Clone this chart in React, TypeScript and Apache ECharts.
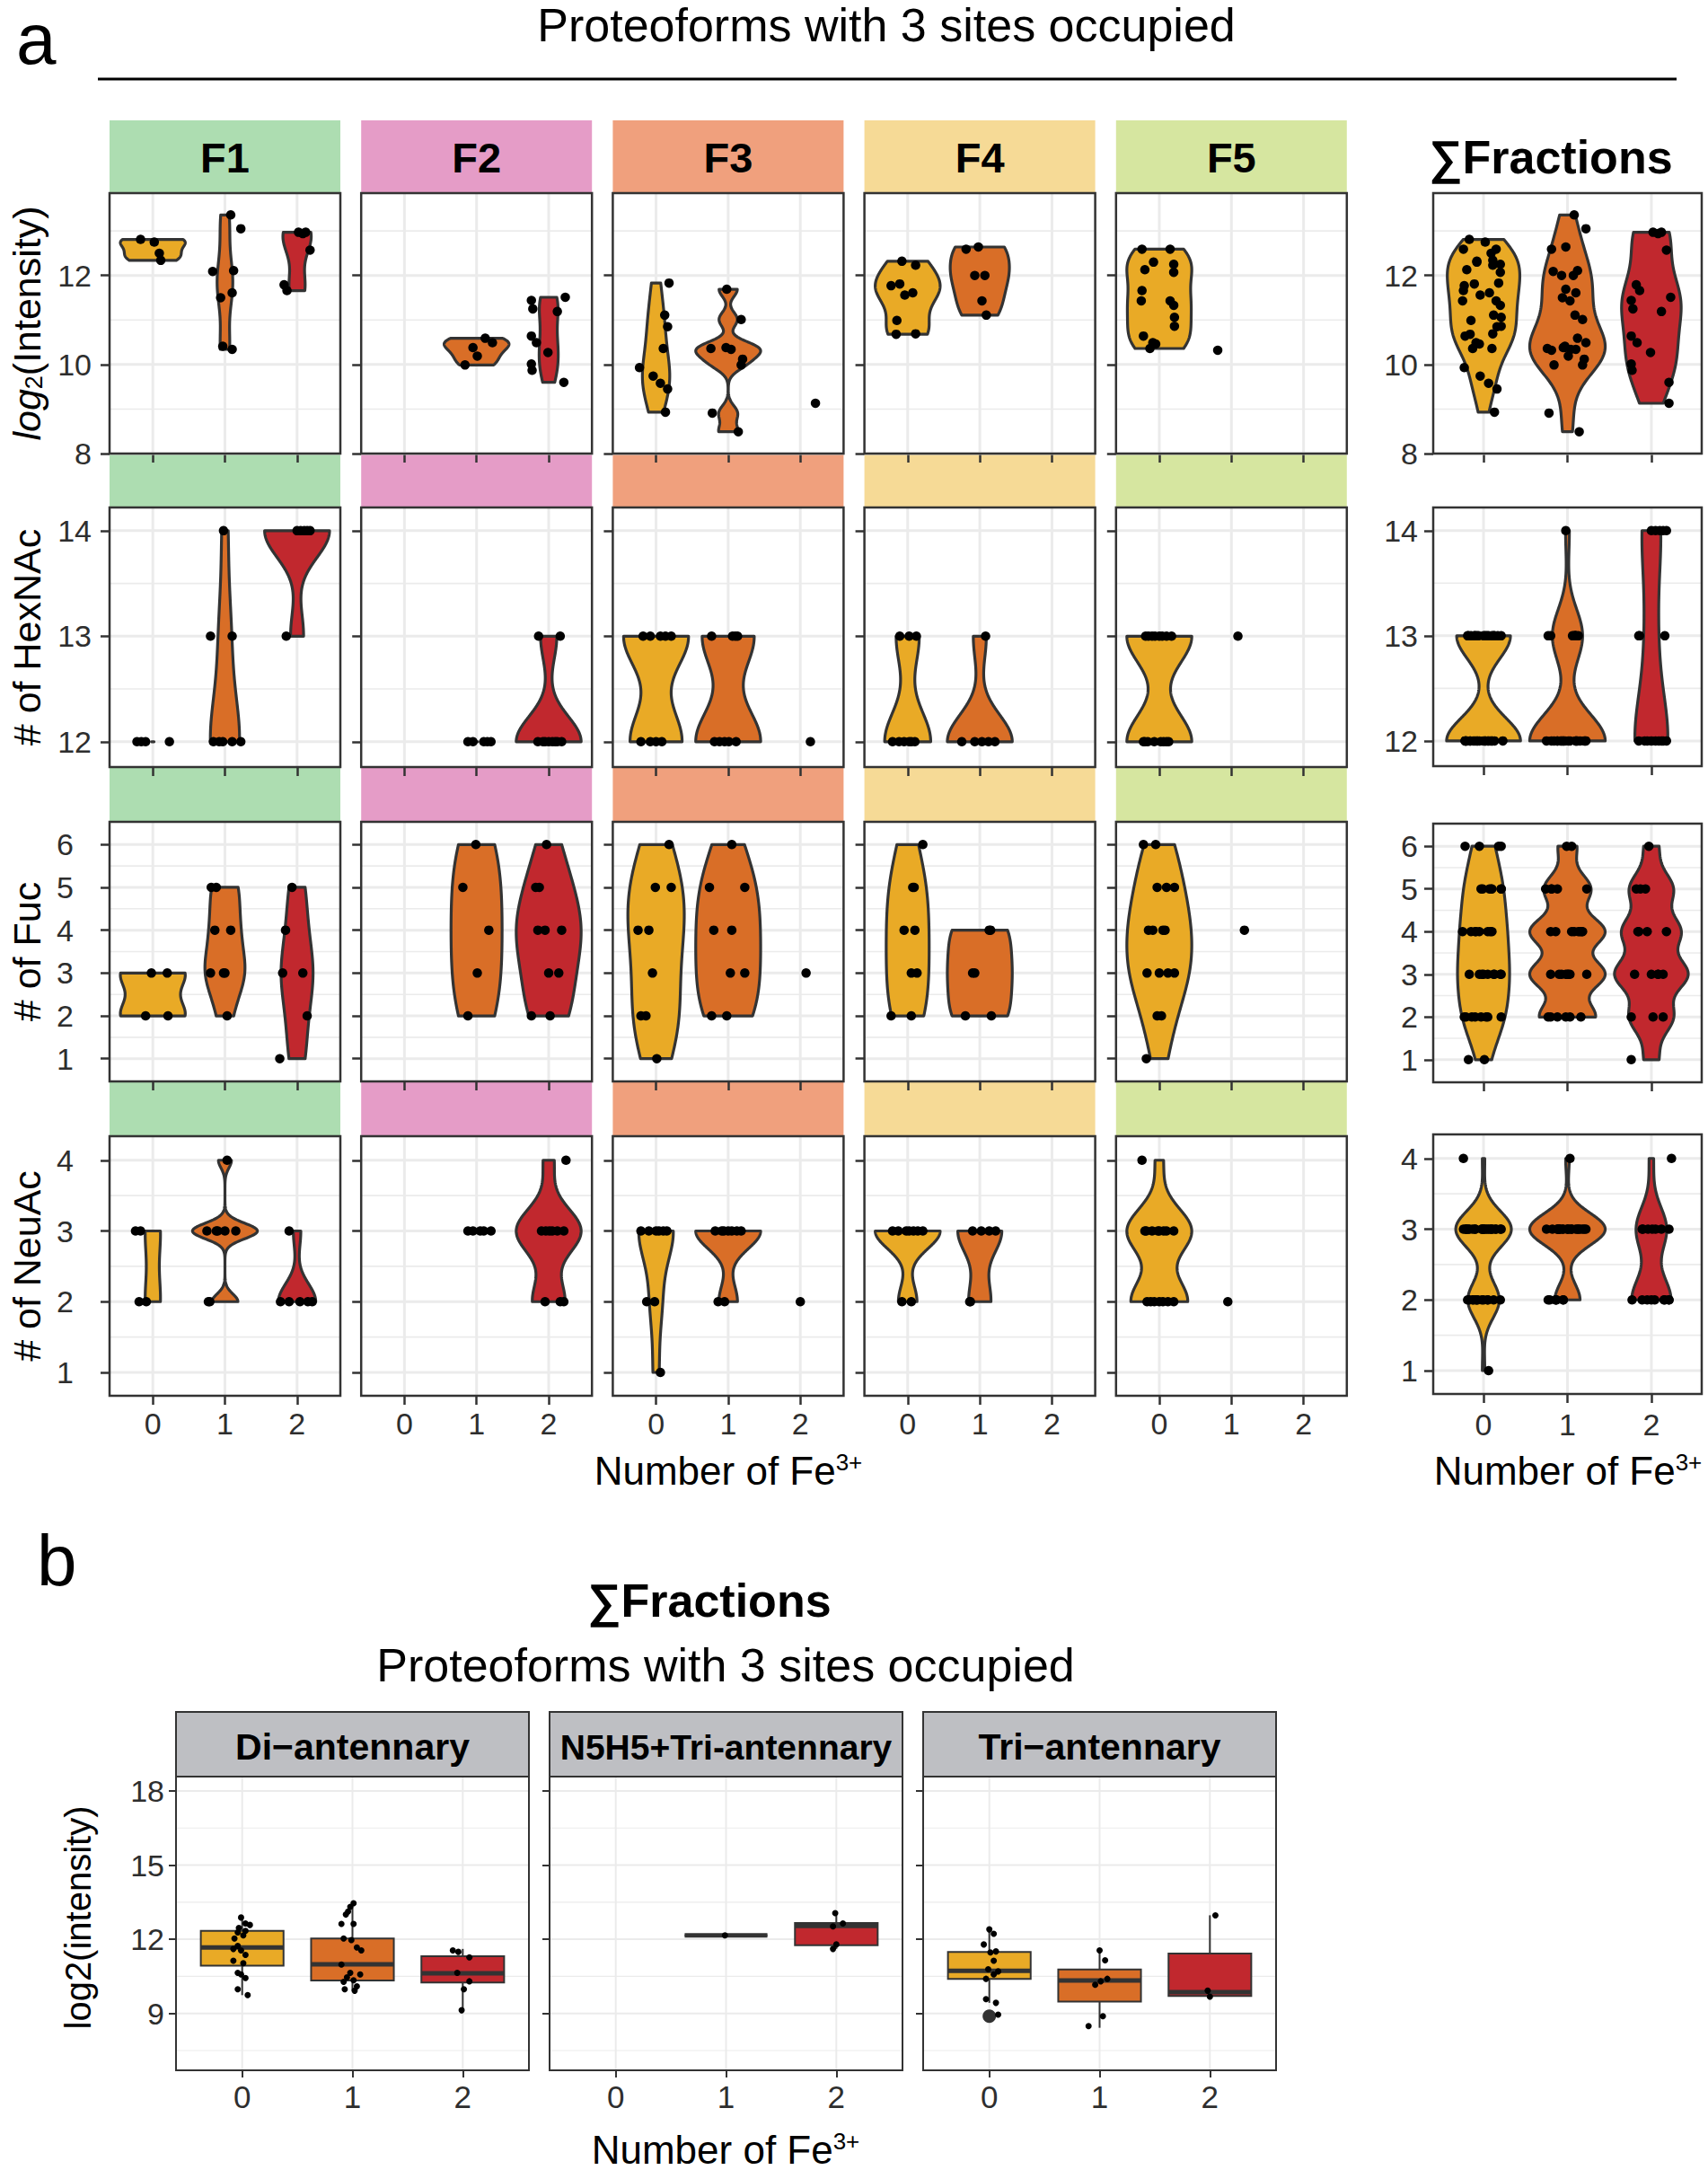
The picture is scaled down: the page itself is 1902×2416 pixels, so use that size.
import React, { useEffect, useRef } from 'react';
import * as echarts from 'echarts';

const W = 1902;
const H = 2416;
const FONT = '"Liberation Sans", Arial, Helvetica, sans-serif';

// ---------------- data ----------------
const FE_LEVELS = [0, 1, 2];
const FRACTIONS = ['F1', 'F2', 'F3', 'F4', 'F5'];
const FRACTION_STRIP_COLORS = ['#ADDDB1', '#E59CC7', '#F0A07D', '#F6DA96', '#D6E6A0'];
const FE_FILL = ['#E9AA26', '#D96E27', '#C1282E'];

// every point: [horizontal jitter (in category units), value]; groups = Fe3+ 0, 1, 2
// Row 1: log2(Intensity)
const INTENSITY_F1 = [
  [[-0.17, 12.81], [0.02, 12.75], [0.09, 12.5], [0.11, 12.34]],
  [[0.08, 13.36], [0.22, 13.05], [-0.17, 12.09], [0.12, 12.11], [-0.06, 11.5], [0.1, 11.61], [-0.03, 10.41], [0.1, 10.34]],
  [[0.02, 12.97], [0.12, 12.97], [0.08, 12.94], [0.18, 12.57], [-0.18, 11.79], [-0.14, 11.66]],
];
const INTENSITY_F2 = [
  [],
  [[0.12, 10.59], [0.22, 10.49], [-0.05, 10.38], [0.01, 10.19], [-0.16, 9.99]],
  [[0.23, 11.51], [-0.24, 11.44], [-0.22, 11.25], [0.12, 11.19], [-0.24, 10.64], [-0.17, 10.49], [-0.01, 10.27], [-0.24, 10.01], [-0.23, 9.87], [0.21, 9.6]],
];
const INTENSITY_F3 = [
  [[0.18, 11.83], [0.12, 11.11], [0.16, 10.85], [0.1, 10.36], [-0.23, 9.93], [-0.04, 9.74], [0.06, 9.58], [0.16, 9.45], [0.13, 8.93]],
  [[-0.02, 11.69], [0.18, 11.01], [-0.24, 10.36], [-0.03, 10.38], [0.04, 10.34], [0.2, 10.12], [0.18, 9.99], [-0.22, 8.91], [0.14, 8.49]],
  [[0.21, 9.13]],
];
const INTENSITY_F4 = [
  [[-0.08, 12.32], [0.11, 12.23], [-0.23, 11.77], [-0.11, 11.81], [-0.04, 11.56], [0.07, 11.61], [-0.15, 10.99], [-0.16, 10.68], [0.11, 10.69]],
  [[-0.19, 12.59], [-0.02, 12.64], [-0.07, 12.0], [0.07, 12.0], [0.03, 11.43], [0.09, 11.11]],
  [],
];
const INTENSITY_F5 = [
  [[-0.24, 12.59], [0.15, 12.59], [-0.08, 12.3], [-0.2, 12.13], [0.2, 12.25], [0.2, 12.07], [-0.24, 11.66], [-0.25, 11.43], [0.15, 11.43], [0.2, 11.33], [0.21, 11.06], [0.21, 10.86], [-0.22, 10.64], [-0.09, 10.49], [-0.13, 10.36], [-0.05, 10.46]],
  [[-0.19, 10.32]],
  [],
];

// Row 2: # of HexNAc
const HEXNAC_F1 = [
  [[-0.22, 12], [-0.16, 12], [-0.1, 12], [0.23, 12]],
  [[-0.16, 12], [-0.08, 12], [-0.03, 12], [0.1, 12], [0.22, 12], [-0.2, 13], [0.1, 13], [-0.02, 14]],
  [[-0.15, 13], [0.0, 14], [0.1, 14], [0.18, 14], [0.14, 14], [0.05, 14]],
];
const HEXNAC_F2 = [
  [],
  [[-0.12, 12], [0.1, 12], [0.2, 12], [0.15, 12], [-0.05, 12]],
  [[-0.14, 13], [0.16, 13], [-0.15, 12], [-0.08, 12], [0.0, 12], [0.05, 12], [0.18, 12], [-0.05, 12], [0.09, 12], [0.12, 12]],
];
const HEXNAC_F3 = [
  [[-0.18, 13], [-0.08, 13], [0.06, 13], [0.13, 13], [0.21, 13], [-0.21, 12], [-0.08, 12], [0.0, 12], [0.08, 12]],
  [[-0.23, 13], [0.06, 13], [0.13, 13], [0.1, 13], [-0.19, 12], [-0.12, 12], [0.01, 12], [0.11, 12], [-0.05, 12]],
  [[0.14, 12]],
];
const HEXNAC_F4 = [
  [[-0.11, 13], [0.02, 13], [0.12, 13], [-0.21, 12], [-0.05, 12], [0.02, 12], [0.05, 12], [0.1, 12], [-0.12, 12]],
  [[0.08, 13], [-0.25, 12], [-0.07, 12], [0.03, 12], [0.21, 12], [0.12, 12]],
  [],
];
const HEXNAC_F5 = [
  [[-0.19, 13], [-0.15, 13], [-0.06, 13], [0.04, 13], [0.17, 13], [-0.1, 13], [0.1, 13], [0.0, 13], [-0.22, 12], [-0.16, 12], [-0.07, 12], [0.06, 12], [0.13, 12], [-0.2, 12], [0.1, 12], [0.02, 12]],
  [[0.09, 13]],
  [],
];

// Row 3: # of Fuc
const FUC_F1 = [
  [[-0.02, 3], [0.2, 3], [-0.1, 2], [0.21, 2]],
  [[-0.19, 5], [-0.12, 5], [-0.14, 4], [0.08, 4], [-0.2, 3], [-0.02, 3], [0.0, 3], [0.03, 2]],
  [[-0.07, 5], [-0.16, 4], [-0.2, 3], [0.08, 3], [0.14, 2], [-0.24, 1]],
];
const FUC_F2 = [
  [],
  [[-0.01, 6], [-0.19, 5], [0.17, 4], [0.01, 3], [-0.12, 2]],
  [[-0.03, 6], [-0.18, 5], [-0.13, 5], [-0.15, 4], [-0.05, 4], [0.18, 4], [0.0, 3], [0.14, 3], [-0.24, 2], [0.02, 2]],
];
const FUC_F3 = [
  [[0.18, 6], [-0.01, 5], [0.21, 5], [-0.25, 4], [-0.1, 4], [-0.05, 3], [-0.21, 2], [-0.14, 2], [0.01, 1]],
  [[0.05, 6], [-0.26, 5], [0.23, 5], [-0.2, 4], [0.05, 4], [0.03, 3], [0.23, 3], [-0.23, 2], [-0.02, 2]],
  [[0.08, 3]],
];
const FUC_F4 = [
  [[0.21, 6], [0.07, 5], [0.09, 5], [-0.05, 4], [0.1, 4], [0.05, 3], [0.13, 3], [-0.23, 2], [0.05, 2]],
  [[0.15, 4], [0.13, 4], [-0.1, 3], [-0.07, 3], [-0.2, 2], [0.16, 2]],
  [],
];
const FUC_F5 = [
  [[-0.22, 6], [-0.05, 6], [-0.03, 5], [0.1, 5], [0.21, 5], [-0.09, 4], [0.05, 4], [0.08, 4], [-0.15, 4], [-0.17, 3], [0.0, 3], [0.21, 3], [0.12, 3], [-0.03, 2], [0.03, 2], [-0.18, 1]],
  [[0.18, 4]],
  [],
];

// Row 4: # of NeuAc
const NEUAC_F1 = [
  [[-0.24, 3], [-0.17, 3], [-0.19, 2], [-0.09, 2]],
  [[0.03, 4], [-0.25, 3], [-0.12, 3], [0.0, 3], [0.15, 3], [-0.1, 3], [-0.23, 2], [-0.21, 2]],
  [[-0.11, 3], [-0.23, 2], [-0.11, 2], [0.04, 2], [0.15, 2], [0.21, 2]],
];
const NEUAC_F2 = [
  [],
  [[-0.12, 3], [0.05, 3], [0.2, 3], [0.1, 3], [-0.05, 3]],
  [[0.24, 4], [-0.04, 3], [0.05, 3], [0.12, 3], [0.21, 3], [0.01, 3], [-0.1, 3], [-0.05, 2], [0.16, 2], [0.21, 2]],
];
const NEUAC_F3 = [
  [[-0.21, 3], [0.04, 3], [0.15, 3], [-0.1, 3], [0.1, 3], [0.0, 3], [-0.13, 2], [-0.02, 2], [0.06, 1]],
  [[-0.18, 3], [-0.09, 3], [0.05, 3], [0.18, 3], [0.0, 3], [0.12, 3], [-0.06, 3], [-0.14, 2], [-0.05, 2]],
  [[0.0, 2]],
];
const NEUAC_F4 = [
  [[-0.21, 3], [-0.13, 3], [-0.02, 3], [0.02, 3], [0.14, 3], [0.21, 3], [0.08, 3], [-0.08, 2], [0.05, 2]],
  [[-0.1, 3], [0.02, 3], [0.13, 3], [0.22, 3], [-0.14, 2], [-0.13, 2]],
  [],
];
const NEUAC_F5 = [
  [[-0.24, 4], [-0.2, 3], [-0.18, 3], [-0.02, 3], [0.06, 3], [0.2, 3], [0.1, 3], [-0.1, 3], [0.0, 3], [-0.17, 2], [-0.07, 2], [0.05, 2], [0.12, 2], [0.2, 2], [-0.12, 2], [0.0, 2]],
  [[-0.05, 2]],
  [],
];

const ROW_DATA = [
  [INTENSITY_F1, INTENSITY_F2, INTENSITY_F3, INTENSITY_F4, INTENSITY_F5],
  [HEXNAC_F1, HEXNAC_F2, HEXNAC_F3, HEXNAC_F4, HEXNAC_F5],
  [FUC_F1, FUC_F2, FUC_F3, FUC_F4, FUC_F5],
  [NEUAC_F1, NEUAC_F2, NEUAC_F3, NEUAC_F4, NEUAC_F5],
];
const ROW_TITLES = ['{i|log}{s|2}{n|(Intensity)}', '{n|# of HexNAc}', '{n|# of Fuc}', '{n|# of NeuAc}'];
const ROW_Y_TICKS = [[8, 10, 12], [12, 13, 14], [1, 2, 3, 4, 5, 6], [1, 2, 3, 4]];
const ROW_Y_MINOR = [[9, 11, 13], [12.5, 13.5], [1.5, 2.5, 3.5, 4.5, 5.5], [1.5, 2.5, 3.5]];
const ROW_Y_RANGE = [[8, 13.85], [11.76, 14.22], [0.47, 6.53], [0.67, 4.34]];

// Panel b: boxplots, log2(intensity)
const B_FACETS = ['Di\u2212antennary', 'N5H5+Tri-antennary', 'Tri\u2212antennary'];
const DI_POINTS = [
  [[-0.01, 12.88], [0.03, 12.64], [-0.03, 12.46], [0.07, 12.58], [-0.04, 12.28], [0.01, 12.16], [-0.07, 12.03], [0.03, 12.34], [-0.04, 11.73], [-0.08, 11.61], [-0.01, 11.55], [0.03, 11.37], [-0.08, 11.13], [0.01, 11.03], [-0.04, 10.64], [-0.01, 10.58], [0.03, 10.43], [-0.04, 9.98], [0.05, 9.74]],
  [[0.01, 13.46], [-0.02, 13.31], [-0.04, 13.12], [-0.06, 13.0], [-0.1, 12.62], [0.01, 12.62], [-0.08, 12.03], [-0.01, 11.97], [0.04, 11.67], [0.08, 11.55], [-0.1, 10.98], [-0.02, 10.64], [0.07, 10.58], [-0.05, 10.46], [0.01, 10.34], [-0.08, 10.28], [0.04, 10.1], [-0.07, 9.98], [0.02, 9.92]],
  [[-0.09, 11.55], [-0.04, 11.49], [0.06, 11.27], [-0.05, 10.64], [0.06, 10.3], [0.01, 9.98], [-0.01, 9.13]],
];
const N5H5_POINTS = [
  [],
  [[-0.01, 12.16]],
  [[-0.01, 13.06], [0.06, 12.64], [-0.03, 12.52], [0.0, 11.79], [-0.03, 11.61]],
];
const TRI_POINTS = [
  [[0.0, 12.4], [0.04, 12.22], [-0.05, 11.79], [0.06, 11.51], [0.01, 11.47], [0.04, 11.13], [-0.01, 10.79], [0.08, 10.7], [0.04, 10.58], [-0.03, 10.4], [-0.03, 9.58], [0.06, 9.43], [0.08, 8.95]],
  [[0.0, 11.55], [0.05, 11.15], [0.07, 10.4], [0.01, 10.3], [-0.04, 10.16], [0.03, 8.89], [-0.1, 8.49]],
  [[0.05, 12.97], [-0.02, 9.92], [0.0, 9.68]],
];
// [lower whisker, Q1, median, Q3, upper whisker]
const DI_BOX = [[9.74, 10.93, 11.67, 12.34, 12.88], [9.92, 10.33, 10.99, 12.03, 13.46], [9.07, 10.25, 10.62, 11.31, 11.61]];
const N5H5_BOX = [null, [12.16, 12.16, 12.16, 12.16, 12.16], [11.61, 11.76, 12.54, 12.66, 13.06]];
const TRI_BOX = [[9.43, 10.4, 10.72, 11.49, 12.4], [8.42, 9.48, 10.33, 10.78, 11.53], [9.71, 9.71, 9.86, 11.42, 12.97]];
const TRI_OUTLIERS = [[0, 8.89]];
const B_POINTS = [DI_POINTS, N5H5_POINTS, TRI_POINTS];
const B_BOXES = [DI_BOX, N5H5_BOX, TRI_BOX];
const B_OUTLIERS = [[], [], TRI_OUTLIERS];
const B_Y_TICKS = [9, 12, 15, 18];
const B_Y_MINOR = [7.5, 10.5, 13.5, 16.5];
const B_Y_RANGE = [6.7, 18.58];

// ---------------- layout ----------------
const A_LEFT = 122;
const A_W = 257;
const A_STEP = 280.2;
const A_TOP = [215, 565, 915, 1265];
const A_H = [290, 289, 289, 289];
const A_STRIP = [[134, 80], [505, 59], [855, 59], [1205, 59]];
const A_YMARGIN = [20, 20, 40, 40];
const SUM_LEFT = 1596;
const SUM_W = 299;
const SUM_TOP = [215, 565, 917, 1263];
const SUM_H = [290, 288, 288, 289];
const B_LEFT = [196, 612, 1028];
const B_W = 393;
const B_TOP = 1978;
const B_H = 327;
const B_STRIP_TOP = 1906;

// ---------------- violin density (ggplot2 stat_ydensity: gaussian, nrd0, trim) ----------------
function q7(s: number[], p: number) {
  const h = (s.length - 1) * p;
  const lo = Math.floor(h);
  const hi = Math.ceil(h);
  return s[lo] + (h - lo) * (s[hi] - s[lo]);
}
function bwNrd0(x: number[]) {
  const n = x.length;
  const mean = x.reduce((a, b) => a + b, 0) / n;
  const sd = Math.sqrt(x.reduce((a, b) => a + (b - mean) * (b - mean), 0) / (n - 1));
  const s = [...x].sort((a, b) => a - b);
  const iqr = q7(s, 0.75) - q7(s, 0.25);
  let lo = Math.min(sd, iqr / 1.34);
  if (!lo) lo = sd || Math.abs(x[0]) || 1;
  return 0.9 * lo * Math.pow(n, -0.2);
}
function kde(x: number[], steps = 140) {
  const bw = bwNrd0(x);
  const lo = Math.min(...x);
  const hi = Math.max(...x);
  const ys: number[] = [];
  const d: number[] = [];
  for (let i = 0; i <= steps; i++) {
    const y = lo + ((hi - lo) * i) / steps;
    let s = 0;
    for (const xi of x) {
      const z = (y - xi) / bw;
      s += Math.exp(-0.5 * z * z);
    }
    ys.push(y);
    d.push(s / (x.length * bw * Math.sqrt(2 * Math.PI)));
  }
  return { ys, d };
}

function buildOption() {
  const grid: any[] = [];
  const xAxis: any[] = [];
  const yAxis: any[] = [];
  const series: any[] = [];
  const graphic: any[] = [];

  const addPanel = (p: any) => {
    const idx = grid.length;
    grid.push({ left: p.left, top: p.top, width: p.width, height: p.height, show: false, containLabel: false, outerBoundsMode: 'none' });
    xAxis.push({
      gridIndex: idx, type: 'value', min: -0.6, max: 2.6,
      axisLine: { show: false, onZero: false }, splitLine: { show: false },
      axisTick: { show: true, customValues: FE_LEVELS, length: p.tickLen, lineStyle: { color: '#333333', width: p.tickW } },
      axisLabel: { show: p.showX, customValues: FE_LEVELS, margin: p.xMargin, fontSize: p.xLabelSize, color: '#2E2E2E', fontFamily: FONT },
    });
    yAxis.push({
      gridIndex: idx, type: 'value', min: p.range[0], max: p.range[1],
      axisLine: { show: false, onZero: false }, splitLine: { show: false },
      axisTick: { show: true, customValues: p.ticks, length: p.tickLen, lineStyle: { color: '#333333', width: p.tickW } },
      axisLabel: { show: p.showY, customValues: p.ticks, margin: p.yMargin, fontSize: p.yLabelSize, color: '#2E2E2E', fontFamily: FONT, showMinLabel: true, showMaxLabel: true },
    });
    // grid lines
    const lines: any[] = [
      ...p.minor.map((v: number) => ({ o: 'h', v, w: p.minorW })),
      ...p.ticks.map((v: number) => ({ o: 'h', v, w: p.majorW })),
      ...FE_LEVELS.map((v) => ({ o: 'v', v, w: p.majorW })),
    ];
    series.push({
      type: 'custom', xAxisIndex: idx, yAxisIndex: idx, z: 1, silent: true,
      data: lines.map((l) => (l.o === 'h' ? [0, l.v] : [l.v, p.range[0]])),
      renderItem: (params: any, api: any) => {
        const l = lines[params.dataIndex];
        const cs = params.coordSys;
        if (l.o === 'h') {
          const y = api.coord([0, l.v])[1];
          return { type: 'line', shape: { x1: cs.x, y1: y, x2: cs.x + cs.width, y2: y }, style: { stroke: '#EBEBEB', lineWidth: l.w } };
        }
        const x = api.coord([l.v, p.range[0]])[0];
        return { type: 'line', shape: { x1: x, y1: cs.y, x2: x, y2: cs.y + cs.height }, style: { stroke: '#EBEBEB', lineWidth: l.w } };
      },
    });

    if (p.kind === 'violin') {
      const dens = p.groups.map((g: number[][]) => (g.length >= 2 ? kde(g.map((q) => q[1])) : null));
      let maxD = 0;
      dens.forEach((o: any) => o && o.d.forEach((v: number) => { if (v > maxD) maxD = v; }));
      const violins: any[] = [];
      dens.forEach((o: any, g: number) => {
        if (o) violins.push({ g, ys: o.ys, hw: o.d.map((v: number) => (0.45 * v) / maxD) });
      });
      series.push({
        type: 'custom', xAxisIndex: idx, yAxisIndex: idx, z: 2, silent: true,
        data: violins.map((v) => [v.g, v.ys[0]]),
        renderItem: (params: any, api: any) => {
          const v = violins[params.dataIndex];
          const right = v.ys.map((y: number, i: number) => api.coord([v.g + v.hw[i], y]));
          const left = v.ys.map((y: number, i: number) => api.coord([v.g - v.hw[i], y])).reverse();
          return {
            type: 'polygon',
            shape: { points: right.concat(left) },
            style: { fill: FE_FILL[v.g], stroke: '#333333', lineWidth: 3.2, lineJoin: 'round' },
          };
        },
      });
    } else {
      const boxes: any[] = [];
      p.boxes.forEach((s: any, g: number) => { if (s) boxes.push({ g, s }); });
      series.push({
        type: 'custom', xAxisIndex: idx, yAxisIndex: idx, z: 2, silent: true,
        data: boxes.map((b) => [b.g, b.s[2]]),
        renderItem: (params: any, api: any) => {
          const { g, s } = boxes[params.dataIndex];
          const [mn, q1, md, q3, mx] = s;
          const hw = 0.375;
          const c = (x: number, y: number) => api.coord([x, y]);
          const tl = c(g - hw, q3);
          const br = c(g + hw, q1);
          const st = '#333333';
          return {
            type: 'group',
            children: [
              { type: 'line', shape: { x1: c(g, q3)[0], y1: c(g, q3)[1], x2: c(g, mx)[0], y2: c(g, mx)[1] }, style: { stroke: st, lineWidth: 2 } },
              { type: 'line', shape: { x1: c(g, q1)[0], y1: c(g, q1)[1], x2: c(g, mn)[0], y2: c(g, mn)[1] }, style: { stroke: st, lineWidth: 2 } },
              { type: 'rect', shape: { x: tl[0], y: tl[1], width: br[0] - tl[0], height: br[1] - tl[1] }, style: { fill: FE_FILL[g], stroke: st, lineWidth: 2 } },
              { type: 'line', shape: { x1: c(g - hw, md)[0], y1: c(g - hw, md)[1], x2: c(g + hw, md)[0], y2: c(g + hw, md)[1] }, style: { stroke: st, lineWidth: 5 } },
            ],
          };
        },
      });
      if (p.outliers && p.outliers.length) {
        series.push({
          type: 'scatter', xAxisIndex: idx, yAxisIndex: idx, z: 3, silent: true, symbol: 'circle', symbolSize: 15,
          itemStyle: { color: '#333333', opacity: 1 },
          data: p.outliers.map((o: number[]) => [o[0], o[1]]),
        });
      }
    }

    const pts: number[][] = [];
    p.groups.forEach((grp: number[][], g: number) => grp.forEach(([dx, y]) => pts.push([g + dx, y])));
    series.push({
      type: 'scatter', xAxisIndex: idx, yAxisIndex: idx, z: 4, silent: true, symbol: 'circle', symbolSize: p.pointSize,
      itemStyle: { color: '#000000', opacity: 1 },
      data: pts,
    });

    graphic.push({
      type: 'rect', silent: true, z: 100,
      shape: { x: p.left, y: p.top, width: p.width, height: p.height },
      style: { fill: 'none', stroke: '#333333', lineWidth: p.borderW },
    });
  };

  const txt = (x: number, y: number, text: string, o: any = {}) => ({
    type: 'text', x, y, z: 120, silent: true, rotation: o.rotation || 0,
    style: {
      text, fill: '#000000', fontFamily: FONT, fontSize: o.fontSize || 32, fontWeight: o.fontWeight || 'normal',
      align: o.align || 'center', verticalAlign: 'middle', rich: o.rich,
    },
  });

  // ----- panel a -----
  graphic.push(txt(18, 43, 'a', { fontSize: 80, align: 'left' }));
  graphic.push(txt(987, 28, 'Proteoforms with 3 sites occupied', { fontSize: 52 }));
  graphic.push({ type: 'line', silent: true, z: 100, shape: { x1: 109, y1: 88, x2: 1867, y2: 88 }, style: { stroke: '#000000', lineWidth: 3 } });

  for (let r = 0; r < 4; r++) {
    for (let f = 0; f < 5; f++) {
      const left = A_LEFT + f * A_STEP;
      graphic.push({
        type: 'rect', silent: true, z: -1,
        shape: { x: left, y: A_STRIP[r][0], width: A_W, height: A_STRIP[r][1] },
        style: { fill: FRACTION_STRIP_COLORS[f] },
      });
      if (r === 0) graphic.push(txt(left + A_W / 2, 175, FRACTIONS[f], { fontSize: 47, fontWeight: 'bold' }));
      addPanel({
        kind: 'violin', left, top: A_TOP[r], width: A_W, height: A_H[r],
        range: ROW_Y_RANGE[r], ticks: ROW_Y_TICKS[r], minor: ROW_Y_MINOR[r],
        showY: f === 0, yMargin: A_YMARGIN[r], showX: r === 3, xMargin: 14,
        xLabelSize: 34, yLabelSize: 34, tickLen: 10, tickW: 2.5,
        majorW: 3, minorW: 1.6, borderW: 2.5, pointSize: 10.5,
        groups: ROW_DATA[r][f],
      });
    }
    // sum of fractions panel
    const sumGroups = FE_LEVELS.map((g) => ROW_DATA[r].flatMap((facet) => facet[g]));
    addPanel({
      kind: 'violin', left: SUM_LEFT, top: SUM_TOP[r], width: SUM_W, height: SUM_H[r],
      range: ROW_Y_RANGE[r], ticks: ROW_Y_TICKS[r], minor: ROW_Y_MINOR[r],
      showY: true, yMargin: 17, showX: r === 3, xMargin: 17,
      xLabelSize: 34, yLabelSize: 34, tickLen: 10, tickW: 2.5,
      majorW: 3, minorW: 1.6, borderW: 2.5, pointSize: 10.5,
      groups: sumGroups,
    });
    graphic.push(txt(30, A_TOP[r] + A_H[r] / 2, ROW_TITLES[r], {
      rotation: Math.PI / 2,
      rich: {
        i: { fontSize: 43, fontStyle: 'italic', fontFamily: FONT, fill: '#000' },
        s: { fontSize: 27, verticalAlign: 'bottom', fontFamily: FONT, fill: '#000' },
        n: { fontSize: 43, fontFamily: FONT, fill: '#000' },
      },
    }));
  }
  graphic.push(txt(1727, 175, '\u2211Fractions', { fontSize: 52, fontWeight: 'bold' }));

  const feRich = {
    n: { fontSize: 44, fontFamily: FONT, fill: '#000' },
    s: { fontSize: 26, verticalAlign: 'top', fontFamily: FONT, fill: '#000' },
  };
  graphic.push(txt(811, 1637, '{n|Number of Fe}{s|3+}', { rich: feRich }));
  graphic.push(txt(1746, 1637, '{n|Number of Fe}{s|3+}', { rich: feRich }));

  // ----- panel b -----
  graphic.push(txt(41, 1737, 'b', { fontSize: 80, align: 'left' }));
  graphic.push(txt(790, 1782, '\u2211Fractions', { fontSize: 52, fontWeight: 'bold' }));
  graphic.push(txt(808, 1854, 'Proteoforms with 3 sites occupied', { fontSize: 52 }));
  for (let f = 0; f < 3; f++) {
    graphic.push({
      type: 'rect', silent: true, z: -1,
      shape: { x: B_LEFT[f], y: B_STRIP_TOP, width: B_W, height: B_TOP - B_STRIP_TOP },
      style: { fill: '#BEBFC3', stroke: '#333333', lineWidth: 2 },
    });
    graphic.push(txt(B_LEFT[f] + B_W / 2, 1945, B_FACETS[f], { fontSize: f === 1 ? 39 : 41, fontWeight: 'bold' }));
    addPanel({
      kind: 'box', left: B_LEFT[f], top: B_TOP, width: B_W, height: B_H,
      range: B_Y_RANGE, ticks: B_Y_TICKS, minor: B_Y_MINOR,
      showY: f === 0, yMargin: 13, showX: true, xMargin: 12,
      xLabelSize: 35, yLabelSize: 34, tickLen: 8, tickW: 2,
      majorW: 2, minorW: 1.1, borderW: 2, pointSize: 7,
      groups: B_POINTS[f], boxes: B_BOXES[f], outliers: B_OUTLIERS[f],
    });
  }
  graphic.push(txt(87, 2135, 'log2(intensity)', { fontSize: 40, rotation: Math.PI / 2 }));
  graphic.push(txt(808, 2393, '{n|Number of Fe}{s|3+}', { rich: feRich }));

  return {
    animation: false,
    backgroundColor: '#ffffff',
    grid, xAxis, yAxis, series,
    graphic: { elements: graphic },
  };
}

export default function App() {
  const ref = useRef<HTMLDivElement>(null);
  useEffect(() => {
    if (!ref.current) return;
    const chart = echarts.init(ref.current, null, { renderer: 'svg', width: W, height: H });
    chart.setOption(buildOption() as any);
    return () => chart.dispose();
  }, []);
  return <div ref={ref} style={{ position: 'absolute', left: 0, top: 0, width: W, height: H, background: '#fff' }} />;
}
